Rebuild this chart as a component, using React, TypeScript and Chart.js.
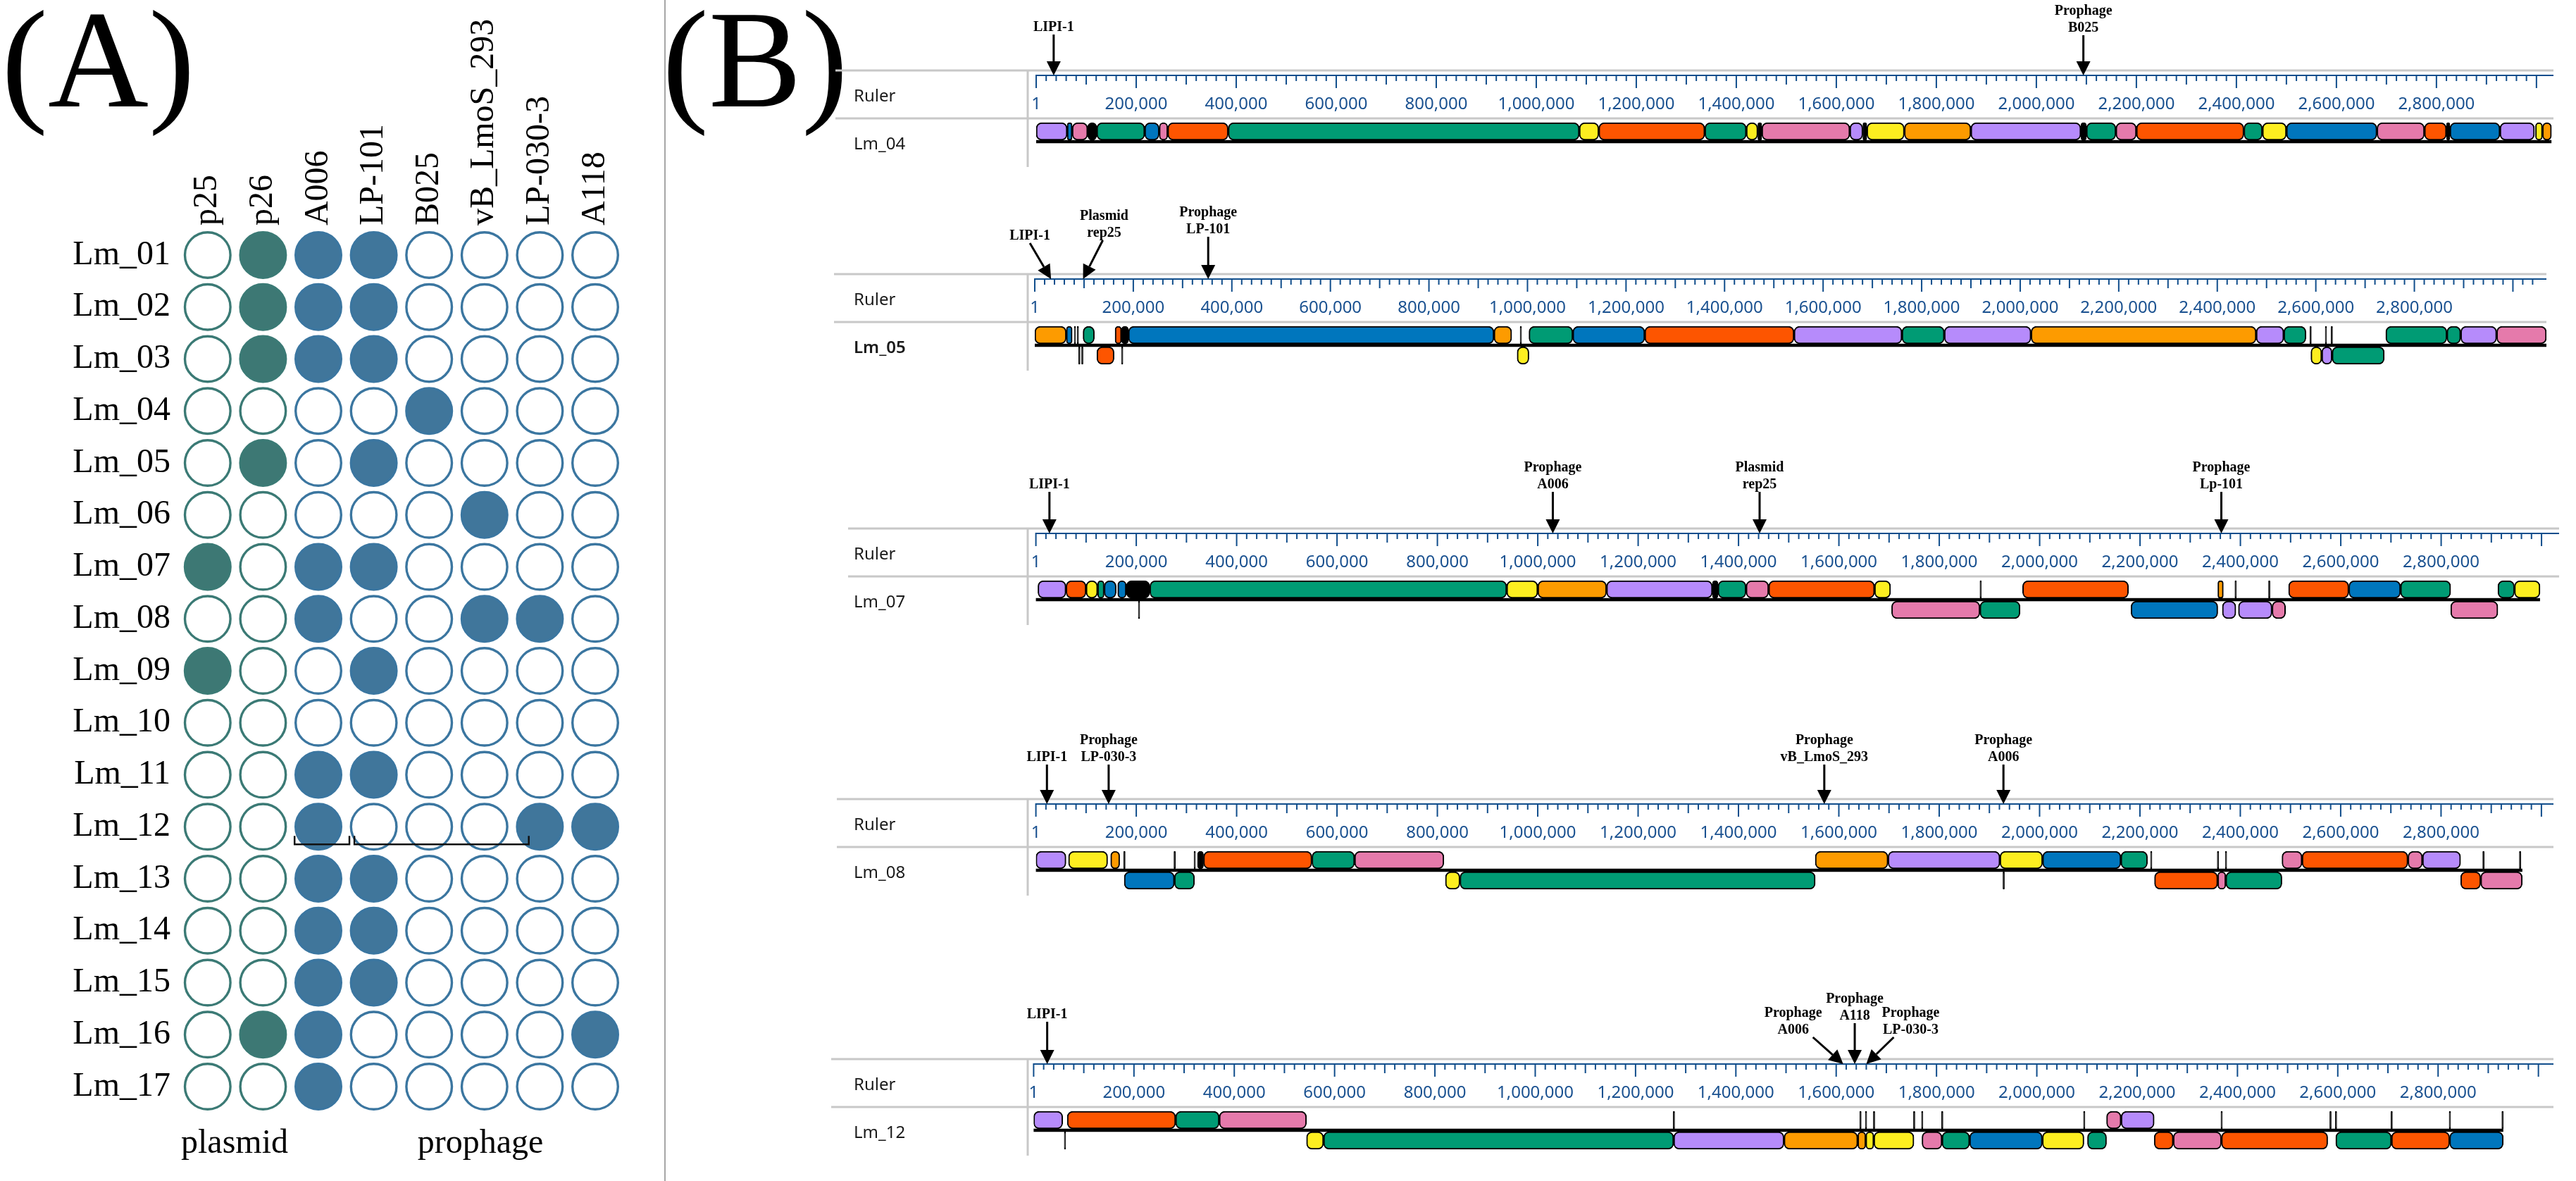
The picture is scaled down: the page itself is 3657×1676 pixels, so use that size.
import React, { useEffect, useRef } from 'react';
import { Chart, registerables } from 'chart.js';

Chart.register(...registerables);

const SERIF = '"Liberation Serif", "Times New Roman", serif';
const SANS = '"Noto Sans", "DejaVu Sans", sans-serif';

// ---------------- Panel A data ----------------
const elements = ['p25', 'p26', 'A006', 'LP-101', 'B025', 'vB_LmoS_293', 'LP-030-3', 'A118'];
const elementType = ['plasmid', 'plasmid', 'prophage', 'prophage', 'prophage', 'prophage', 'prophage', 'prophage'];
const strains = ['Lm_01', 'Lm_02', 'Lm_03', 'Lm_04', 'Lm_05', 'Lm_06', 'Lm_07', 'Lm_08', 'Lm_09',
  'Lm_10', 'Lm_11', 'Lm_12', 'Lm_13', 'Lm_14', 'Lm_15', 'Lm_16', 'Lm_17'];
const presence: number[][] = [
  [0, 1, 1, 1, 0, 0, 0, 0],
  [0, 1, 1, 1, 0, 0, 0, 0],
  [0, 1, 1, 1, 0, 0, 0, 0],
  [0, 0, 0, 0, 1, 0, 0, 0],
  [0, 1, 0, 1, 0, 0, 0, 0],
  [0, 0, 0, 0, 0, 1, 0, 0],
  [1, 0, 1, 1, 0, 0, 0, 0],
  [0, 0, 1, 0, 0, 1, 1, 0],
  [1, 0, 0, 1, 0, 0, 0, 0],
  [0, 0, 0, 0, 0, 0, 0, 0],
  [0, 0, 1, 1, 0, 0, 0, 0],
  [0, 0, 1, 0, 0, 0, 1, 1],
  [0, 0, 1, 1, 0, 0, 0, 0],
  [0, 0, 1, 1, 0, 0, 0, 0],
  [0, 0, 1, 1, 0, 0, 0, 0],
  [0, 1, 1, 0, 0, 0, 0, 1],
  [0, 0, 1, 0, 0, 0, 0, 0],
];
const groupNames = ['plasmid', 'prophage'];
// bracket spans under Lm_12 (in column units)
const bracketSpans: [number, number][] = [[1.57, 2.56], [2.65, 5.8]];
const bracketRow = 'Lm_12';

// ---------------- Panel B data (kb) ----------------
type Block = [number, number, string];
type Feature = { label: string[]; at: number };

const lm04Fwd: Block[] = [
  [0, 62, 'pu'], [62, 72, 'bl'], [72, 103, 'pi'], [103, 121, 'bk'], [121, 217, 'gr'], [217, 246, 'bl'],
  [246, 263, 'pi'], [263, 384, 've'], [384, 1086, 'gr'], [1086, 1125, 'ye'], [1125, 1337, 've'],
  [1337, 1420, 'gr'], [1420, 1443, 'ye'], [1443, 1451, 'bk'], [1451, 1627, 'pi'], [1627, 1653, 'pu'],
  [1653, 1661, 'bk'], [1661, 1736, 'ye'], [1736, 1869, 'or'], [1869, 2089, 'pu'], [2089, 2100, 'bk'],
  [2100, 2159, 'gr'], [2159, 2200, 'pi'], [2200, 2415, 've'], [2415, 2452, 'gr'], [2452, 2500, 'ye'],
  [2500, 2681, 'bl'], [2681, 2776, 'pi'], [2776, 2820, 've'], [2820, 2827, 'bk'], [2827, 2927, 'bl'],
  [2927, 2996, 'pu'], [2998, 3012, 'ye'], [3012, 3030, 'or'],
];
const lm04Rev: Block[] = [];
const lm04Features: Feature[] = [
  { label: ['LIPI-1'], at: 35 },
  { label: ['Prophage', 'B025'], at: 2094 },
];

const lm05Fwd: Block[] = [
  [0, 64, 'or'], [64, 76, 'bl'], [80, 83, 'bk'], [86, 89, 'bk'], [98, 121, 'gr'], [163, 176, 've'],
  [176, 190, 'bk'], [190, 932, 'bl'], [932, 968, 'or'], [985, 988, 'bk'], [1003, 1092, 'gr'],
  [1092, 1238, 'bl'], [1238, 1541, 've'], [1541, 1760, 'pu'], [1760, 1846, 'gr'], [1846, 2022, 'pu'],
  [2022, 2479, 'or'], [2479, 2535, 'pu'], [2535, 2580, 'gr'], [2588, 2591, 'bk'], [2619, 2622, 'bk'],
  [2631, 2634, 'bk'], [2742, 2866, 'gr'], [2866, 2894, 'gr'], [2894, 2967, 'pu'], [2967, 3068, 'pi'],
];
const lm05Rev: Block[] = [
  [89, 92, 'bk'], [95, 98, 'bk'], [126, 161, 've'], [176, 179, 'bk'], [979, 1003, 'ye'],
  [2590, 2612, 'ye'], [2612, 2633, 'pu'], [2633, 2739, 'gr'],
];
const lm05Features: Feature[] = [
  { label: ['LIPI-1'], at: 33 },
  { label: ['Plasmid', 'rep25'], at: 98 },
  { label: ['Prophage', 'LP-101'], at: 352 },
];

const lm07Fwd: Block[] = [
  [4, 60, 'pu'], [60, 100, 've'], [100, 123, 'ye'], [123, 136, 'gr'], [136, 160, 'bl'], [163, 180, 'bl'],
  [180, 227, 'bk'], [227, 938, 'gr'], [938, 1000, 'ye'], [1000, 1137, 'or'], [1137, 1348, 'pu'],
  [1348, 1359, 'bk'], [1359, 1415, 'gr'], [1415, 1460, 'pi'], [1460, 1671, 've'], [1671, 1703, 'ye'],
  [1881, 1884, 'bk'], [1966, 2177, 've'], [2355, 2366, 'or'], [2389, 2392, 'bk'], [2456, 2459, 'bk'],
  [2496, 2616, 've'], [2616, 2719, 'bl'], [2719, 2819, 'gr'], [2913, 2946, 'gr'], [2946, 2997, 'ye'],
];
const lm07Rev: Block[] = [
  [204, 207, 'bk'], [1705, 1881, 'pi'], [1881, 1961, 'gr'], [2182, 2355, 'bl'], [2364, 2391, 'pu'],
  [2396, 2463, 'pu'], [2463, 2490, 'pi'], [2819, 2913, 'pi'],
];
const lm07Features: Feature[] = [
  { label: ['LIPI-1'], at: 27 },
  { label: ['Prophage', 'A006'], at: 1030 },
  { label: ['Plasmid', 'rep25'], at: 1442 },
  { label: ['Prophage', 'Lp-101'], at: 2362 },
];

const lm08Fwd: Block[] = [
  [0, 60, 'pu'], [65, 143, 'ye'], [149, 167, 'or'], [175, 178, 'bk'], [275, 278, 'bk'], [315, 318, 'bk'],
  [322, 334, 'bk'], [334, 550, 've'], [550, 635, 'gr'], [635, 813, 'pi'], [1553, 1698, 'or'],
  [1698, 1921, 'pu'], [1921, 2006, 'ye'], [2006, 2162, 'bl'], [2162, 2215, 'gr'], [2221, 2224, 'bk'],
  [2354, 2357, 'bk'], [2370, 2373, 'bk'], [2483, 2523, 'pi'], [2523, 2734, 've'], [2734, 2763, 'pi'],
  [2763, 2839, 'pu'], [2883, 2886, 'bk'], [2956, 2959, 'bk'],
];
const lm08Rev: Block[] = [
  [176, 276, 'bl'], [276, 316, 'gr'], [816, 845, 'ye'], [845, 1553, 'gr'], [1927, 1930, 'bk'],
  [2229, 2355, 've'], [2355, 2371, 'pi'], [2371, 2483, 'gr'], [2839, 2879, 've'], [2879, 2962, 'pi'],
];
const lm08Features: Feature[] = [
  { label: ['LIPI-1'], at: 22 },
  { label: ['Prophage', 'LP-030-3'], at: 145 },
  { label: ['Prophage', 'vB_LmoS_293'], at: 1571 },
  { label: ['Prophage', 'A006'], at: 1928 },
];

const lm12Fwd: Block[] = [
  [0, 58, 'pu'], [67, 283, 've'], [283, 370, 'gr'], [370, 544, 'pi'], [1275, 1278, 'bk'],
  [1647, 1650, 'bk'], [1658, 1661, 'bk'], [1674, 1677, 'bk'], [1754, 1757, 'bk'], [1770, 1773, 'bk'],
  [1810, 1813, 'bk'], [2093, 2096, 'bk'], [2139, 2168, 'pi'], [2168, 2234, 'pu'], [2367, 2370, 'bk'],
  [2584, 2587, 'bk'], [2595, 2598, 'bk'], [2706, 2709, 'bk'], [2822, 2825, 'bk'], [2927, 2930, 'bk'],
];
const lm12Rev: Block[] = [
  [61, 64, 'bk'], [544, 578, 'ye'], [578, 1276, 'gr'], [1276, 1496, 'pu'], [1496, 1643, 'or'],
  [1643, 1659, 'or'], [1659, 1675, 'ye'], [1675, 1755, 'ye'], [1771, 1811, 'pi'], [1811, 1866, 'gr'],
  [1866, 2011, 'bl'], [2011, 2094, 'ye'], [2101, 2139, 'gr'], [2234, 2272, 've'], [2272, 2368, 'pi'],
  [2368, 2580, 've'], [2596, 2707, 'gr'], [2707, 2823, 've'], [2823, 2930, 'bl'],
];
const lm12Features: Feature[] = [
  { label: ['LIPI-1'], at: 27 },
  { label: ['Prophage', 'A006'], at: 1614 },
  { label: ['Prophage', 'A118'], at: 1637 },
  { label: ['Prophage', 'LP-030-3'], at: 1660 },
];

const genomeNames = ['Lm_04', 'Lm_05', 'Lm_07', 'Lm_08', 'Lm_12'];
const genomeLengths = [3030, 3068, 2997, 2962, 2930]; // kb
const rulerMaxima = [3034, 3068, 3035, 3024, 3030]; // kb
const rulerStep = 20; // kb
const rulerMid = 100;
const rulerMajor = 200;
const rulerLastLabel = 2800;

// ---------------- Styles / layout ----------------
const LCB_COLORS: Record<string, string> = {
  pu: '#b68bfb', ve: '#fd5500', gr: '#009b74', pi: '#e57aab',
  bl: '#0076bd', ye: '#fdee20', or: '#fd9b00', bk: '#000000',
};
const GROUP_STYLE: Record<string, { fill: string; edge: string }> = {
  plasmid: { fill: '#3d7874', edge: '#3b7a75' },
  prophage: { fill: '#40769b', edge: '#3b76a0' },
};
const RULER_COLOR = '#114e8c';
const RULER_TEXT = '#1a5190';

const CANVAS_LEFT = 1180;
const CANVAS_W = 3657 - CANVAS_LEFT;
const SEP_X = 1459;
const LABEL_X = 1212;

type GLayout = { T: number; x0: number; x1: number; lineStart: number; bold: boolean };
const genomeLayout: GLayout[] = [
  { T: 100, x0: 1471, x1: 3625, lineStart: 1186, bold: false },
  { T: 389, x0: 1469, x1: 3615, lineStart: 1184, bold: true },
  { T: 750, x0: 1470.6, x1: 3633, lineStart: 1204, bold: false },
  { T: 1134, x0: 1470.6, x1: 3625, lineStart: 1188, bold: false },
  { T: 1503, x0: 1467.4, x1: 3625, lineStart: 1180, bold: false },
];
type FLayout = { dx: number; ax: number; base: number };
const featureLayout: FLayout[][] = [
  [{ dx: 0, ax: 0, base: -56 }, { dx: 0, ax: 0, base: -55 }],
  [{ dx: -30, ax: -30, base: -49 }, { dx: 30, ax: 28, base: -53 }, { dx: 0, ax: 0, base: -58 }],
  [{ dx: 0, ax: 0, base: -57 }, { dx: 0, ax: 0, base: -57 }, { dx: 0, ax: 0, base: -57 }, { dx: 0, ax: 0, base: -57 }],
  [{ dx: 0, ax: 0, base: -54 }, { dx: 0, ax: 0, base: -54 }, { dx: 0, ax: 0, base: -54 }, { dx: 0, ax: 0, base: -54 }],
  [{ dx: 0, ax: 0, base: -58 }, { dx: -71, ax: -43, base: -36 }, { dx: 0, ax: 0, base: -56 }, { dx: 63, ax: 39, base: -36 }],
];

const genomeFwd = [lm04Fwd, lm05Fwd, lm07Fwd, lm08Fwd, lm12Fwd];
const genomeRev = [lm04Rev, lm05Rev, lm07Rev, lm08Rev, lm12Rev];
const genomeFeatures = [lm04Features, lm05Features, lm07Features, lm08Features, lm12Features];

const fmtKb = (v: number) => (v === 0 ? '1' : (v * 1000).toLocaleString('en-US'));

// ---------------- Panel A ----------------
function PanelA() {
  const ref = useRef<HTMLCanvasElement | null>(null);
  useEffect(() => {
    if (!ref.current) return;
    const datasets = groupNames.map((g) => {
      const pts: any[] = [];
      strains.forEach((s, i) => elements.forEach((e, j) => {
        if (elementType[j] === g) pts.push({ x: e, y: s, v: presence[i][j] });
      }));
      const st = GROUP_STYLE[g];
      return {
        label: g,
        data: pts,
        pointRadius: 32.3,
        pointHoverRadius: 32.3,
        pointBorderWidth: 3.4,
        pointBorderColor: st.edge,
        pointBackgroundColor: (c: any) => (c.raw && c.raw.v ? st.fill : '#ffffff'),
      };
    });
    const decor = {
      id: 'panelADecor',
      afterDraw(chart: any) {
        const { ctx, chartArea } = chart;
        const xs = chart.scales.x, ys = chart.scales.y;
        ctx.save();
        ctx.fillStyle = '#000';
        ctx.font = `48px ${SERIF}`;
        ctx.textAlign = 'left';
        ctx.textBaseline = 'middle';
        elements.forEach((e, j) => {
          ctx.save();
          ctx.translate(xs.getPixelForValue(j), chartArea.top - 5);
          ctx.rotate(-Math.PI / 2);
          ctx.fillText(e, 0, 0);
          ctx.restore();
        });
        const by = ys.getPixelForValue(strains.indexOf(bracketRow)) + 25;
        ctx.strokeStyle = '#111';
        ctx.lineWidth = 2.5;
        bracketSpans.forEach(([a, b]) => {
          const xa = xs.getPixelForValue(a), xb = xs.getPixelForValue(b);
          ctx.beginPath();
          ctx.moveTo(xa, by - 12);
          ctx.lineTo(xa, by);
          ctx.lineTo(xb, by);
          ctx.lineTo(xb, by - 12);
          ctx.stroke();
        });
        ctx.restore();
      },
    };
    const chart = new Chart(ref.current, {
      type: 'scatter',
      data: { datasets } as any,
      options: {
        animation: false,
        responsive: false,
        events: [],
        layout: { padding: { left: 0, top: 325.1, right: 59.7, bottom: 97.1 } },
        scales: {
          x: { type: 'category', labels: elements, offset: true, display: false },
          y: {
            type: 'category', labels: strains, offset: true, position: 'left',
            grid: { display: false, drawTicks: false }, border: { display: false },
            ticks: { font: { family: SERIF, size: 48 }, color: '#000', padding: 13.5, autoSkip: false },
            afterFit: (s: any) => { s.width = 255.5; },
          },
        },
        plugins: { legend: { display: false }, tooltip: { enabled: false } },
      } as any,
      plugins: [decor],
    });
    return () => chart.destroy();
  }, []);
  return (
    <canvas ref={ref} width={944} height={1676}
      style={{ position: 'absolute', left: 0, top: 0, width: 944, height: 1676 }} />
  );
}

// ---------------- Panel B genome view ----------------
function GenomeView({ idx }: { idx: number }) {
  const ref = useRef<HTMLCanvasElement | null>(null);
  const lay = genomeLayout[idx];
  const top = lay.T - 100;
  const height = 250;
  useEffect(() => {
    if (!ref.current) return;
    const fwd = genomeFwd[idx], rev = genomeRev[idx];
    const all = [...fwd.map((b) => ({ b, row: 'fwd' })), ...rev.map((b) => ({ b, row: 'rev' }))];
    const feats = genomeFeatures[idx];
    const flay = featureLayout[idx];
    const name = genomeNames[idx];
    const glen = genomeLengths[idx];
    const decor = {
      id: 'genomeDecor',
      beforeDatasetsDraw(chart: any) {
        const { ctx, chartArea } = chart;
        const xs = chart.scales.x, ys = chart.scales.y;
        const T = chartArea.top - 72;
        const ls = lay.lineStart - CANVAS_LEFT;
        const xr0 = xs.getPixelForValue(0);
        const xr1 = xs.getPixelForValue(xs.max);
        ctx.save();
        ctx.fillStyle = '#c8c8c8';
        ctx.fillRect(ls, T - 1.5, xr1 - ls, 3);
        ctx.fillRect(ls, T + 68 - 1.5, xr1 - ls, 3);
        ctx.fillRect(SEP_X - CANVAS_LEFT - 1.5, T, 3, 137);
        ctx.fillStyle = '#1a1a1a';
        ctx.textAlign = 'left';
        ctx.textBaseline = 'alphabetic';
        ctx.font = `24px ${SANS}`;
        ctx.fillText('Ruler', LABEL_X - CANVAS_LEFT, T + 44);
        ctx.font = `${lay.bold ? '600 ' : ''}24px ${SANS}`;
        ctx.fillText(name, LABEL_X - CANVAS_LEFT, T + 112);
        // ruler
        ctx.fillStyle = RULER_COLOR;
        ctx.fillRect(xr0, T + 6, xr1 - xr0, 2);
        xs.ticks.forEach((t: any) => {
          const v = t.value;
          if (v % rulerStep !== 0) return;
          const len = v % rulerMajor === 0 ? 18 : v % rulerMid === 0 ? 13 : 8;
          const px = xs.getPixelForValue(v);
          ctx.fillRect(px - 1, T + 6, 2, len + 1);
        });
        ctx.fillStyle = RULER_TEXT;
        ctx.font = `24px ${SANS}`;
        ctx.textAlign = 'center';
        xs.ticks.forEach((t: any) => {
          const v = t.value;
          if (v % rulerMajor === 0 && v <= rulerLastLabel) {
            ctx.fillText(fmtKb(v), xs.getPixelForValue(v), T + 55);
          }
        });
        // centre line of the genome
        const yc = (ys.getPixelForValue(0) + ys.getPixelForValue(1)) / 2;
        ctx.fillStyle = '#000';
        ctx.fillRect(xr0, yc - 2.25, xs.getPixelForValue(glen) - xr0, 4.5);
        ctx.restore();
      },
      afterDraw(chart: any) {
        const { ctx, chartArea } = chart;
        const xs = chart.scales.x;
        const T = chartArea.top - 72;
        ctx.save();
        ctx.fillStyle = '#000';
        ctx.strokeStyle = '#000';
        ctx.font = `bold 20px ${SERIF}`;
        ctx.textAlign = 'center';
        ctx.textBaseline = 'alphabetic';
        feats.forEach((f, k) => {
          const fl = flay[k];
          const tip = xs.getPixelForValue(f.at);
          const lx = tip + fl.dx;
          const ax = tip + fl.ax;
          const n = f.label.length;
          f.label.forEach((line, li) => {
            ctx.fillText(line, lx, T + fl.base - (n - 1 - li) * 24);
          });
          const sy = T + fl.base + 5;
          const ty = T + 7;
          const ang = Math.atan2(ty - sy, tip - ax);
          const hl = 20, hw = 10;
          const bx = tip - hl * Math.cos(ang), by = ty - hl * Math.sin(ang);
          ctx.lineWidth = 3;
          ctx.beginPath();
          ctx.moveTo(ax, sy);
          ctx.lineTo(bx, by);
          ctx.stroke();
          ctx.beginPath();
          ctx.moveTo(tip, ty);
          ctx.lineTo(bx + hw * Math.sin(ang), by - hw * Math.cos(ang));
          ctx.lineTo(bx - hw * Math.sin(ang), by + hw * Math.cos(ang));
          ctx.closePath();
          ctx.fill();
        });
        ctx.restore();
      },
    };
    const chart = new Chart(ref.current, {
      type: 'bar',
      data: {
        labels: ['fwd', 'rev'],
        datasets: [{
          data: all.map((d) => ({ x: [d.b[0], d.b[1]], y: d.row })),
          backgroundColor: all.map((d) => LCB_COLORS[d.b[2]]),
          borderColor: '#000',
          borderWidth: 2,
          borderSkipped: false,
          borderRadius: 8,
          barThickness: 25,
          grouped: false,
        }],
      } as any,
      options: {
        indexAxis: 'y',
        animation: false,
        responsive: false,
        events: [],
        layout: {
          padding: {
            left: lay.x0 - CANVAS_LEFT,
            right: 3657 - lay.x1,
            top: 172,
            bottom: height - 230,
          },
        },
        scales: {
          x: {
            type: 'linear', min: 0, max: rulerMaxima[idx], position: 'top',
            ticks: { display: false, stepSize: rulerStep },
            grid: { display: false, drawTicks: false }, border: { display: false },
            afterFit: (s: any) => { s.height = 0; },
          },
          y: { type: 'category', labels: ['fwd', 'rev'], display: false },
        },
        plugins: { legend: { display: false }, tooltip: { enabled: false } },
      } as any,
      plugins: [decor],
    });
    return () => chart.destroy();
  }, [idx]);
  return (
    <canvas ref={ref} width={CANVAS_W} height={height}
      style={{ position: 'absolute', left: CANVAS_LEFT, top, width: CANVAS_W, height }} />
  );
}

const bigLabel: React.CSSProperties = {
  position: 'absolute', fontFamily: SERIF, fontSize: 198, lineHeight: '198px', color: '#000', whiteSpace: 'nowrap',
};
const groupLabel: React.CSSProperties = {
  position: 'absolute', fontFamily: SERIF, fontSize: 48, lineHeight: '48px', color: '#000',
  width: 300, textAlign: 'center', whiteSpace: 'nowrap',
};

export default function App() {
  return (
    <div style={{ position: 'fixed', left: 0, top: 0, width: 3657, height: 1676, background: '#fff', overflow: 'hidden' }}>
      <div style={{ ...bigLabel, left: 2, top: -14 }}>(A)</div>
      <PanelA />
      <div style={{ ...groupLabel, left: 333 - 150, top: 1596 }}>{groupNames[0]}</div>
      <div style={{ ...groupLabel, left: 682 - 150, top: 1596 }}>{groupNames[1]}</div>
      <div style={{ position: 'absolute', left: 943, top: 0, width: 2, height: 1676, background: '#a6a6a6' }} />
      <div style={{ ...bigLabel, left: 940, top: -14 }}>(B)</div>
      {genomeNames.map((n, i) => <GenomeView key={n} idx={i} />)}
    </div>
  );
}
